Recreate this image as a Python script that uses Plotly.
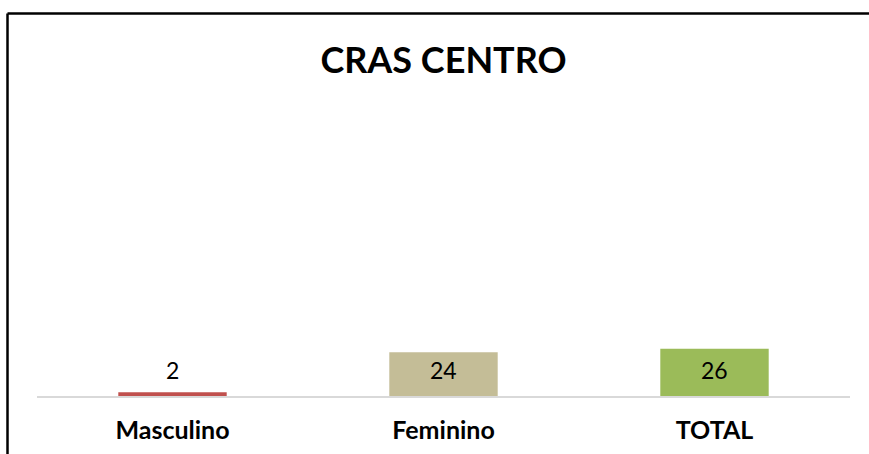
import plotly.graph_objects as go

categories = ["Masculino", "Feminino", "TOTAL"]
values = [2, 24, 26]
colors = ["#C0504D", "#C4BD97", "#9BBB59"]
title_text = "CRAS CENTRO"

W, H = 869, 454
ml, mr, mt, mb = 37, 19, 110, 58
pw, ph = W - ml - mr, H - mt - mb

def px_x(x):
    return (x - ml) / pw

def px_y(y):
    return (H - mb - y) / ph

fig = go.Figure(go.Bar(
    x=categories, y=values,
    marker=dict(color=colors, line=dict(width=0)),
    cliponaxis=False,
    hoverinfo="skip",
))

for c, v in zip(categories, values):
    fig.add_annotation(x=c, y=0, text=str(v), showarrow=False,
                       yanchor="middle", yshift=26,
                       font=dict(family="Lato", size=23, color="black"))

frame = dict(color="black", width=2.5)
fig.update_layout(
    width=W, height=H,
    margin=dict(l=ml, r=mr, t=mt, b=mb, autoexpand=False),
    paper_bgcolor="white", plot_bgcolor="white",
    bargap=0.6,
    showlegend=False,
    title=dict(text="<b>" + title_text + "</b>", x=443.5 / W, xanchor="center",
               y=1 - 60.5 / H, yanchor="middle",
               font=dict(family="Lato", size=36, color="black")),
    xaxis=dict(showline=True, linecolor="#D9D9D9", linewidth=2,
               ticks="", showgrid=False, ticklabelstandoff=11, automargin=False,
               tickfont=dict(family="Lato", size=25, color="black", weight="bold")),
    yaxis=dict(range=[0, 157], visible=False, showgrid=False, automargin=False),
    shapes=[
        dict(type="line", xref="paper", yref="paper",
             x0=px_x(7.5), x1=px_x(900), y0=px_y(13.5), y1=px_y(13.5), line=frame),
        dict(type="line", xref="paper", yref="paper",
             x0=px_x(7.5), x1=px_x(7.5), y0=px_y(13.5), y1=px_y(470), line=frame),
    ],
)

fig.write_html("out.html", config={"displayModeBar": False, "staticPlot": True},
               post_script="document.body.style.margin='0';document.body.style.overflow='hidden';")
